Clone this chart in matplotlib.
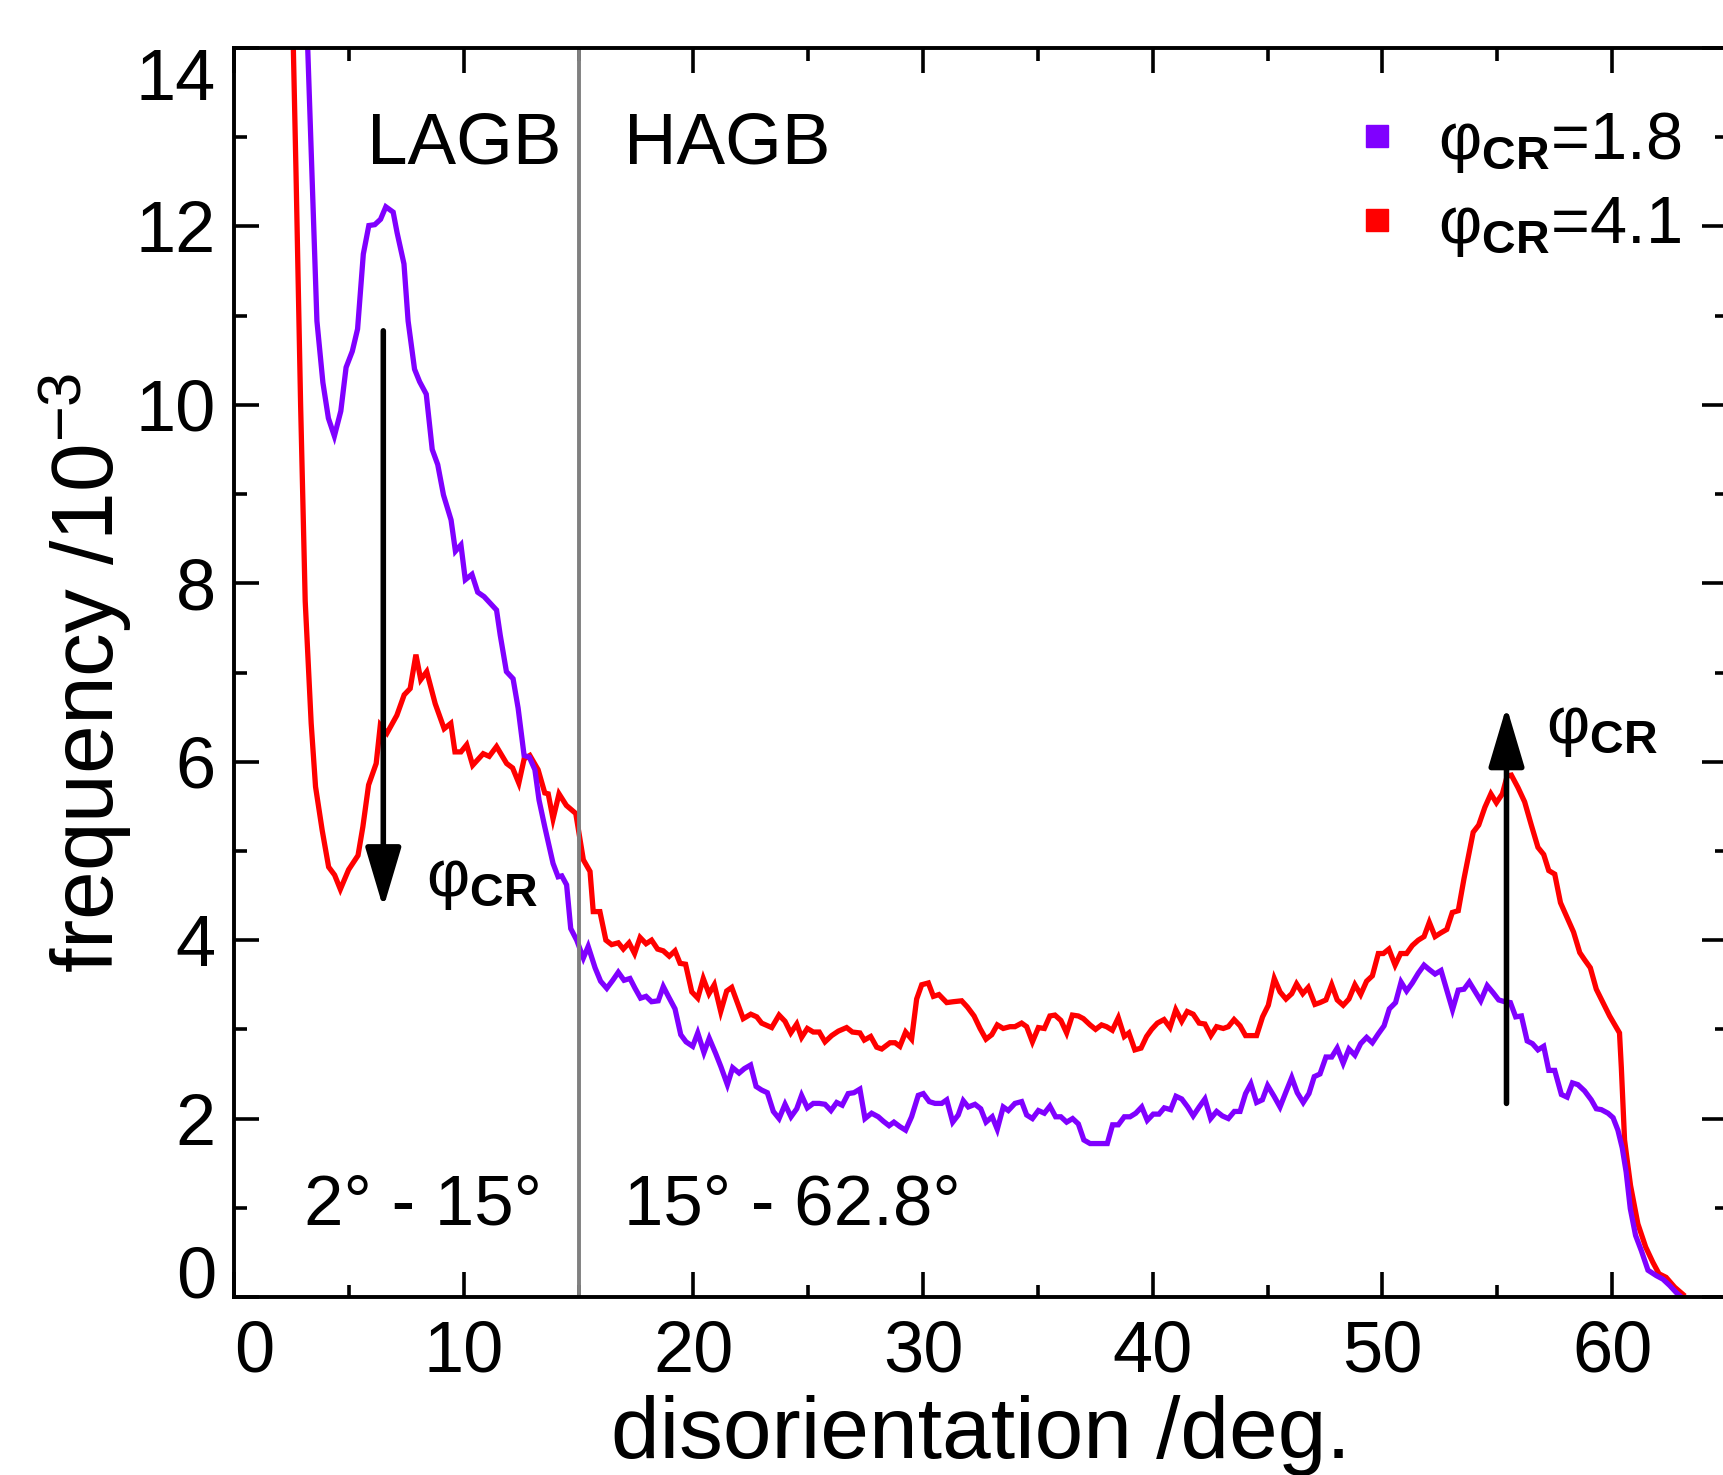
import matplotlib
matplotlib.use("Agg")
import matplotlib.pyplot as plt
from matplotlib.ticker import MultipleLocator
from matplotlib.lines import Line2D

plt.rcParams['font.family'] = ['Liberation Sans', 'DejaVu Sans']
plt.rcParams['mathtext.fontset'] = 'custom'
plt.rcParams['mathtext.rm'] = 'Liberation Sans'
plt.rcParams['mathtext.bf'] = 'Liberation Sans:bold'
plt.rcParams['mathtext.it'] = 'Liberation Sans:italic'

# ---------------- data ----------------
x_18 = [3.0, 3.61, 3.87, 4.11, 4.37, 4.65, 4.88, 5.15, 5.38, 5.63, 5.87, 6.13, 6.38, 6.61, 6.93,
        7.10, 7.40, 7.58, 7.86, 8.08, 8.37, 8.63, 8.87, 9.12, 9.45, 9.64, 9.88, 10.07, 10.36, 10.61,
        10.89, 11.18, 11.43, 11.59, 11.86, 12.15, 12.37, 12.63, 12.86, 13.10, 13.28, 13.53, 13.89,
        14.11, 14.27, 14.48, 14.66, 14.92, 15.21, 15.42, 15.72, 15.96, 16.23, 16.49, 16.73, 16.98,
        17.24, 17.46, 17.70, 17.94, 18.18, 18.47, 18.69, 18.91, 19.20, 19.45, 19.68, 19.97, 20.19,
        20.46, 20.69, 20.97, 21.20, 21.48, 21.71, 21.99, 22.22, 22.49, 22.73, 22.97, 23.22, 23.48,
        23.73, 23.99, 24.25, 24.50, 24.71, 24.96, 25.22, 25.48, 25.73, 25.99, 26.24, 26.48, 26.74,
        26.99, 27.25, 27.47, 27.76, 28.05, 28.27, 28.52, 28.73, 28.99, 29.24, 29.50, 29.79, 30.01,
        30.27, 30.52, 30.81, 31.03, 31.29, 31.53, 31.75, 31.97, 32.26, 32.51, 32.74, 33.01, 33.23,
        33.49, 33.71, 34.00, 34.29, 34.51, 34.76, 35.02, 35.28, 35.52, 35.77, 36.00, 36.25, 36.51,
        36.76, 37.00, 37.27, 37.58, 38.02, 38.25, 38.50, 38.76, 39.01, 39.26, 39.52, 39.76, 40.02,
        40.27, 40.50, 40.78, 41.01, 41.26, 41.52, 41.76, 42.02, 42.27, 42.52, 42.78, 43.03, 43.29,
        43.55, 43.80, 44.04, 44.27, 44.52, 44.77, 45.00, 45.28, 45.54, 45.80, 46.05, 46.29, 46.55,
        46.80, 47.03, 47.28, 47.54, 47.79, 48.03, 48.29, 48.54, 48.80, 49.05, 49.31, 49.56, 49.82,
        50.07, 50.30, 50.57, 50.81, 51.05, 51.30, 51.56, 51.81, 52.04, 52.29, 52.55, 52.80, 53.05,
        53.30, 53.55, 53.78, 54.02, 54.28, 54.56, 54.82, 55.06, 55.32, 55.57, 55.80, 56.05, 56.30,
        56.53, 56.77, 57.02, 57.24, 57.50, 57.79, 58.04, 58.27, 58.51, 58.80, 59.09, 59.31, 59.53,
        59.82, 60.04, 60.25, 60.44, 60.61, 60.79, 61.02, 61.27, 61.56, 61.92, 62.21, 62.50, 62.79,
        63.01]
y_18 = [15.6, 10.94, 10.25, 9.85, 9.65, 9.93, 10.42, 10.60, 10.85, 11.69, 12.01, 12.02, 12.08, 12.22,
        12.16, 11.93, 11.58, 10.94, 10.40, 10.26, 10.12, 9.50, 9.33, 8.99, 8.71, 8.36, 8.43, 8.04,
        8.10, 7.90, 7.85, 7.77, 7.70, 7.42, 7.01, 6.93, 6.60, 6.07, 6.05, 5.91, 5.57, 5.27, 4.86,
        4.71, 4.72, 4.62, 4.13, 4.00, 3.80, 3.93, 3.69, 3.54, 3.46, 3.55, 3.64, 3.55, 3.57, 3.46,
        3.35, 3.37, 3.31, 3.32, 3.48, 3.37, 3.23, 2.94, 2.86, 2.81, 2.96, 2.74, 2.90, 2.73, 2.58,
        2.38, 2.57, 2.51, 2.56, 2.60, 2.36, 2.32, 2.29, 2.08, 2.00, 2.16, 2.02, 2.11, 2.26, 2.12,
        2.17, 2.17, 2.16, 2.09, 2.18, 2.15, 2.28, 2.29, 2.33, 2.00, 2.06, 2.02, 1.97, 1.92, 1.96,
        1.91, 1.87, 2.02, 2.26, 2.28, 2.19, 2.17, 2.17, 2.21, 1.96, 2.04, 2.20, 2.13, 2.16, 2.11,
        1.96, 2.02, 1.88, 2.13, 2.09, 2.17, 2.19, 2.04, 2.00, 2.09, 2.06, 2.14, 2.02, 2.02, 1.96,
        2.00, 1.94, 1.76, 1.72, 1.72, 1.72, 1.93, 1.93, 2.02, 2.02, 2.06, 2.13, 1.98, 2.05, 2.05,
        2.12, 2.10, 2.25, 2.22, 2.13, 2.03, 2.13, 2.22, 2.00, 2.08, 2.03, 2.00, 2.08, 2.08, 2.28,
        2.39, 2.18, 2.21, 2.37, 2.25, 2.13, 2.30, 2.46, 2.29, 2.18, 2.28, 2.47, 2.50, 2.69, 2.69,
        2.79, 2.62, 2.78, 2.71, 2.84, 2.91, 2.85, 2.95, 3.04, 3.23, 3.30, 3.53, 3.43, 3.52, 3.63,
        3.72, 3.67, 3.62, 3.66, 3.44, 3.22, 3.44, 3.45, 3.53, 3.43, 3.32, 3.49, 3.41, 3.33, 3.31,
        3.30, 3.14, 3.15, 2.87, 2.84, 2.77, 2.81, 2.54, 2.54, 2.27, 2.24, 2.40, 2.38, 2.31, 2.21,
        2.11, 2.10, 2.06, 2.01, 1.87, 1.67, 1.40, 0.99, 0.69, 0.52, 0.30, 0.24, 0.20, 0.13, 0.05,
        0.0]

x_41 = [2.5, 2.7, 2.9, 3.1, 3.36, 3.55, 3.84, 4.12, 4.38, 4.63, 4.99, 5.40, 5.61, 5.86, 6.19, 6.37,
        6.66, 7.09, 7.41, 7.67, 7.92, 8.13, 8.39, 8.76, 9.15, 9.44, 9.62, 9.88, 10.13, 10.39, 10.85,
        11.11, 11.43, 11.87, 12.13, 12.40, 12.63, 12.88, 13.24, 13.53, 13.68, 13.89, 14.15, 14.47,
        14.88, 15.21, 15.50, 15.64, 15.93, 16.19, 16.44, 16.73, 16.95, 17.20, 17.44, 17.68, 17.94,
        18.18, 18.44, 18.69, 18.95, 19.20, 19.42, 19.66, 19.93, 20.19, 20.43, 20.68, 20.91, 21.19,
        21.45, 21.67, 22.17, 22.50, 22.76, 22.97, 23.41, 23.73, 23.99, 24.24, 24.50, 24.71, 24.96,
        25.22, 25.48, 25.73, 26.02, 26.31, 26.67, 26.92, 27.25, 27.44, 27.72, 27.98, 28.20, 28.56,
        28.78, 28.99, 29.24, 29.50, 29.72, 29.94, 30.23, 30.45, 30.69, 31.03, 31.32, 31.68, 31.93,
        32.22, 32.48, 32.74, 32.99, 33.23, 33.49, 33.78, 34.00, 34.29, 34.51, 34.76, 35.02, 35.28,
        35.52, 35.74, 36.00, 36.25, 36.50, 36.76, 36.98, 37.27, 37.51, 37.77, 37.99, 38.24, 38.50,
        38.76, 38.96, 39.22, 39.49, 39.73, 39.95, 40.20, 40.49, 40.75, 41.00, 41.26, 41.50, 41.76,
        42.02, 42.27, 42.53, 42.78, 43.07, 43.29, 43.54, 43.80, 44.04, 44.31, 44.52, 44.78, 45.03,
        45.29, 45.54, 45.80, 46.05, 46.26, 46.53, 46.77, 47.06, 47.28, 47.54, 47.79, 48.03, 48.29,
        48.54, 48.80, 49.05, 49.31, 49.56, 49.82, 50.04, 50.28, 50.55, 50.79, 51.05, 51.30, 51.56,
        51.81, 52.04, 52.29, 52.53, 52.80, 53.04, 53.30, 53.55, 53.78, 53.95, 54.19, 54.46, 54.72,
        54.96, 55.22, 55.43, 55.61, 55.90, 56.19, 56.48, 56.77, 57.02, 57.24, 57.50, 57.75, 58.01,
        58.32, 58.59, 58.80, 59.05, 59.31, 59.60, 59.89, 60.32, 60.40, 60.54, 60.80, 61.12, 61.46,
        61.77, 62.04, 62.35, 62.72, 63.08]
y_41 = [15.0, 12.6, 10.0, 7.8, 6.43, 5.72, 5.23, 4.82, 4.73, 4.57, 4.79, 4.95, 5.27, 5.74, 5.98, 6.41,
        6.32, 6.52, 6.75, 6.82, 7.20, 6.92, 7.01, 6.65, 6.37, 6.43, 6.11, 6.11, 6.19, 5.96, 6.09,
        6.06, 6.17, 5.98, 5.93, 5.76, 6.03, 6.07, 5.91, 5.65, 5.64, 5.36, 5.64, 5.51, 5.42, 4.90,
        4.77, 4.32, 4.32, 4.00, 3.95, 3.97, 3.90, 3.97, 3.85, 4.03, 3.96, 4.00, 3.90, 3.88, 3.82,
        3.88, 3.74, 3.73, 3.42, 3.35, 3.57, 3.40, 3.50, 3.20, 3.43, 3.47, 3.12, 3.17, 3.14, 3.07,
        3.02, 3.16, 3.09, 2.96, 3.06, 2.91, 3.01, 2.97, 2.97, 2.86, 2.93, 2.98, 3.02, 2.97, 2.96,
        2.88, 2.92, 2.80, 2.78, 2.85, 2.85, 2.81, 2.97, 2.89, 3.34, 3.50, 3.52, 3.37, 3.39, 3.30,
        3.31, 3.32, 3.25, 3.15, 3.01, 2.89, 2.94, 3.05, 3.01, 3.03, 3.03, 3.07, 3.03, 2.86, 3.02,
        3.01, 3.15, 3.16, 3.10, 2.96, 3.16, 3.15, 3.12, 3.05, 3.00, 3.05, 3.03, 2.99, 3.13, 2.92,
        2.96, 2.77, 2.79, 2.92, 3.00, 3.07, 3.11, 3.02, 3.22, 3.09, 3.20, 3.17, 3.07, 3.06, 2.93,
        3.03, 3.01, 3.03, 3.11, 3.04, 2.93, 2.93, 2.93, 3.14, 3.27, 3.57, 3.42, 3.34, 3.40, 3.51,
        3.40, 3.47, 3.28, 3.30, 3.33, 3.50, 3.33, 3.27, 3.34, 3.50, 3.39, 3.54, 3.60, 3.85, 3.85,
        3.90, 3.72, 3.85, 3.85, 3.94, 4.00, 4.04, 4.20, 4.04, 4.08, 4.12, 4.31, 4.33, 4.69, 4.99,
        5.21, 5.29, 5.49, 5.64, 5.54, 5.64, 5.84, 5.85, 5.71, 5.55, 5.29, 5.04, 4.96, 4.78, 4.74,
        4.42, 4.27, 4.09, 3.86, 3.78, 3.69, 3.45, 3.30, 3.15, 2.96, 2.57, 1.76, 1.25, 0.82, 0.56,
        0.39, 0.26, 0.22, 0.11, 0.03]

series_labels = ['φ$_{\\mathbf{CR}}$=1.8', 'φ$_{\\mathbf{CR}}$=4.1']
series_colors = ['#8000FF', '#FF0000']
x_ticks = [0, 10, 20, 30, 40, 50, 60]
y_ticks = [0, 2, 4, 6, 8, 10, 12, 14]
boundary_deg = 15

# ---------------- figure ----------------
W, H = 1724, 1475
fig = plt.figure(figsize=(W / 100, H / 100), dpi=100)
ax = fig.add_axes([234 / W, 1 - 1297 / H, 1493 / W, 1249 / H])

ax.plot(x_41, y_41, color=series_colors[1], lw=3.8, zorder=1.9, solid_joinstyle='miter')
ax.plot(x_18, y_18, color=series_colors[0], lw=3.8, zorder=2.0, solid_joinstyle='miter')
ax.axvline(boundary_deg, color='#808080', lw=2.8, zorder=2.2)

ax.set_xlim(0, 65)
ax.set_ylim(0, 14)
ax.set_xticks(x_ticks)
ax.set_yticks(y_ticks)
ax.xaxis.set_minor_locator(MultipleLocator(5))
ax.yaxis.set_minor_locator(MultipleLocator(1))
ax.tick_params(which='both', direction='in', top=True, right=True, width=2.6, labelsize=52)
ax.tick_params(which='major', length=18)
ax.tick_params(which='minor', length=9)
ax.tick_params(axis='x', pad=16)
ax.tick_params(axis='y', pad=13)
for sp in ax.spines.values():
    sp.set_linewidth(2.8)

# end labels kept inside like the original
xl = ax.get_xticklabels()
xl[0].set_horizontalalignment('left')
yl = ax.get_yticklabels()
yl[0].set_verticalalignment('baseline')
yl[-1].set_verticalalignment('top')

ax.set_xlabel('disorientation /deg.', fontsize=63, labelpad=6)
ax.set_ylabel('frequency /10$^{\\mathregular{-3}}$', fontsize=63, labelpad=1)

# region annotations
ax.text(5.8, 12.71, 'LAGB', fontsize=52.5, ha='left', va='baseline')
ax.text(17.0, 12.71, 'HAGB', fontsize=52.5, ha='left', va='baseline')
ax.text(3.05, 0.81, '2° - 15°', fontsize=51, ha='left', va='baseline')
ax.text(17.0, 0.81, '15° - 62.8°', fontsize=51, ha='left', va='baseline')

# trend arrows
arrow_kw = dict(arrowstyle='-|>,head_length=37,head_width=11', lw=4, color='k',
                shrinkA=0, shrinkB=0, mutation_scale=1)
ax.annotate('', xy=(6.5, 4.36), xytext=(6.5, 10.83), arrowprops=arrow_kw)
ax.annotate('', xy=(55.4, 6.62), xytext=(55.4, 2.17), arrowprops=arrow_kw)
ax.text(8.35, 4.50, 'φ$_{\\mathbf{CR}}$', fontsize=48, ha='left', va='baseline')
ax.text(57.1, 6.21, 'φ$_{\\mathbf{CR}}$', fontsize=48, ha='left', va='baseline')

# legend
handles = [Line2D([], [], ls='none', marker='s', ms=16, mfc=c, mec=c) for c in series_colors]
ax.legend(handles, series_labels, loc='upper left', bbox_to_anchor=(1357 / W, 1 - 110 / H),
          bbox_transform=fig.transFigure, frameon=False, fontsize=48, handlelength=0.6,
          handletextpad=0.62, labelspacing=0.3, borderpad=0, borderaxespad=0)

fig.savefig('out.png', dpi=100)
